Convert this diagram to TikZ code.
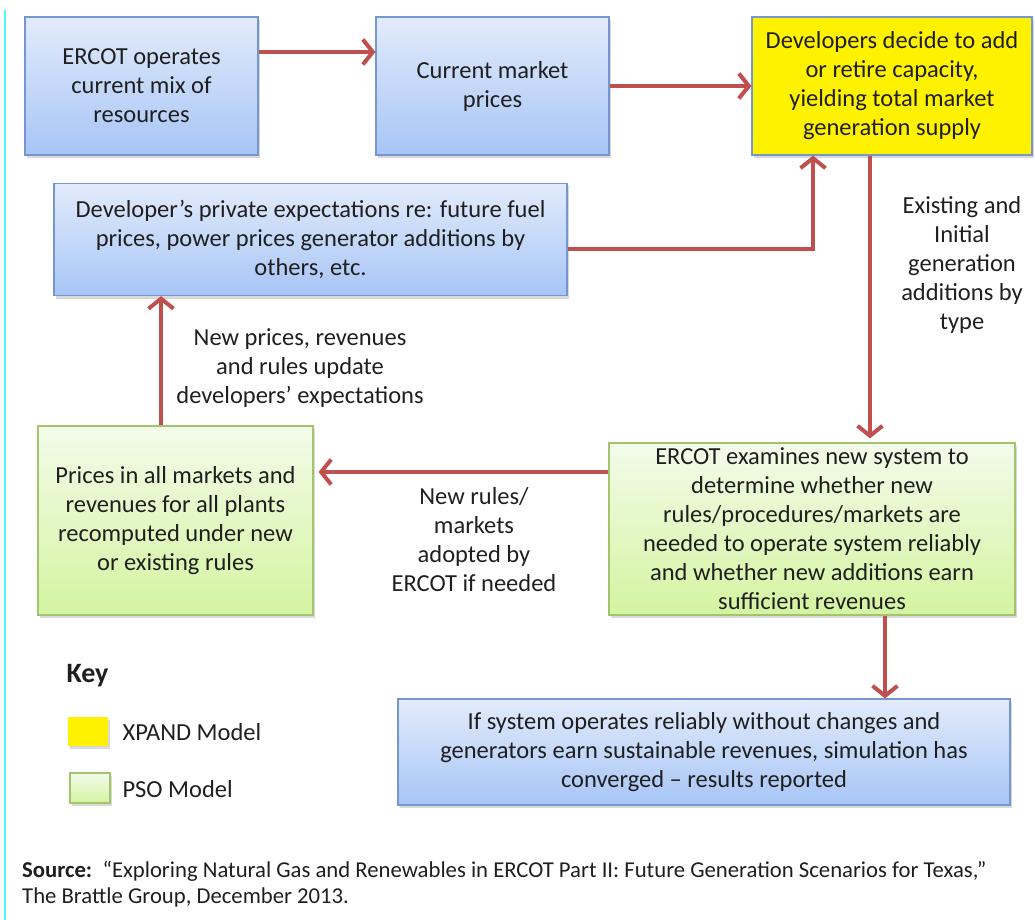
\documentclass[tikz,border=0pt]{standalone}
\usepackage{fontspec}
\setmainfont{Carlito}
\usetikzlibrary{arrows.meta,shadows}
\definecolor{arrowred}{HTML}{C0504D}
\definecolor{bluetop}{HTML}{E2EBFB}
\definecolor{bluebot}{HTML}{A7C5F6}
\definecolor{blueedge}{HTML}{7696CF}
\definecolor{greentop}{HTML}{F3FBEA}
\definecolor{greenbot}{HTML}{D3F4A0}
\definecolor{greenedge}{HTML}{A3C46C}
\definecolor{textgrey}{HTML}{1F1F1F}
\definecolor{sideline}{HTML}{55F2F2}

\begin{document}
\begin{tikzpicture}[x=1pt,y=-1pt]
        \tikzset{box/.style = {shape=rectangle, draw=blueedge, line width=1.2pt,
                align=center, inner sep=0pt, text=textgrey,
                font=\fontsize{24.5}{29}\selectfont,
                drop shadow={shadow xshift=2pt, shadow yshift=-3pt, opacity=0.3}}}
        \tikzset{bluebox/.style = {box, top color=bluetop, bottom color=bluebot}}
        \tikzset{greenbox/.style = {box, draw=greenedge, top color=greentop, bottom color=greenbot}}
        \tikzset{xpandbox/.style = {box, fill=yellow}}
        \tikzset{note/.style = {align=center, text=textgrey, font=\fontsize{24.5}{29}\selectfont}}
        \tikzset{keytext/.style = {anchor=west, text=textgrey, font=\fontsize{24.5}{29}\selectfont}}
        \tikzset{edge/.style = {draw=arrowred, line width=4pt,
                -{Straight Barb[length=10pt, width=25pt]}}}

        \useasboundingbox (0,0) rectangle (1035,920);
        \draw[sideline, line width=2pt] (5,10) -- (5,920);

        \node[bluebox, minimum width=233, minimum height=138] (ercot) at (141.5,86)
                {ERCOT operates\\current mix of\\resources};
        \node[bluebox, minimum width=233, minimum height=138] (prices) at (492.5,86)
                {Current market\\prices};
        \node[xpandbox, minimum width=280, minimum height=138] (xpand) at (892,86)
                {Developers decide to add\\or retire capacity,\\yielding total market\\generation supply};
        \node[bluebox, minimum width=513, minimum height=112] (expect) at (310.5,239.5)
                {Developer’s private expectations re: future fuel\\prices, power prices generator additions by\\others, etc.};
        \node[greenbox, minimum width=275, minimum height=189] (recomp) at (175.5,520.5)
                {Prices in all markets and\\revenues for all plants\\recomputed under new\\or existing rules};
        \node[greenbox, minimum width=406, minimum height=172] (examine) at (812,529)
                {ERCOT examines new system to\\determine whether new\\rules/procedures/markets are\\needed to operate system reliably\\and whether new additions earn\\sufficient revenues};
        \node[bluebox, minimum width=612, minimum height=106] (result) at (704,752)
                {If system operates reliably without changes and\\generators earn sustainable revenues, simulation has\\converged – results reported};

        \node[note] (additions) at (962,265)
                {Existing and\\Initial\\generation\\additions by\\type};
        \node[note] (newexp) at (300,368)
                {New prices, revenues\\and rules update\\developers’ expectations};
        \node[note] (newrules) at (474,540)
                {New rules/\\markets\\adopted by\\ERCOT if needed};

        \draw[edge] ([yshift=34]ercot.east) -- ([yshift=34]prices.west);
        \draw[edge] (prices.east) -- (xpand.west);
        \draw[edge] ([yshift=-9]expect.east) -| ([xshift=-79]xpand.south);
        \draw[edge, shorten >=4pt] ([xshift=-22]xpand.south) -- ([xshift=-22]xpand.south |- examine.north);
        \draw[edge, shorten >=5pt] ([yshift=57]examine.west) -- ([yshift=57]examine.west -| recomp.east);
        \draw[edge] ([xshift=-14.5]recomp.north) -- ([xshift=-14.5]recomp.north |- expect.south);
        \draw[edge] ([xshift=73]examine.south) -- ([xshift=73]examine.south |- result.north);

        \node[keytext, font=\fontsize{28}{32}\selectfont\bfseries] (key) at (63,676) {Key};
        \node[xpandbox, draw=none, minimum width=40, minimum height=29] (xpandkey) at (87.5,731) {};
        \node[keytext] (xpandtxt) at (119,732) {XPAND Model};
        \node[greenbox, minimum width=40, minimum height=30] (psokey) at (90,788) {};
        \node[keytext] (psotxt) at (119,789) {PSO Model};

        \node[anchor=north west, align=left, text=textgrey, inner sep=0pt,
                font=\fontsize{22.7}{25.5}\selectfont] (source) at (22,861)
                {\textbf{Source:}\ \ “Exploring Natural Gas and Renewables in ERCOT Part II: Future Generation Scenarios for Texas,”\\The Brattle Group, December 2013.};
    \end{tikzpicture}
\end{document}
